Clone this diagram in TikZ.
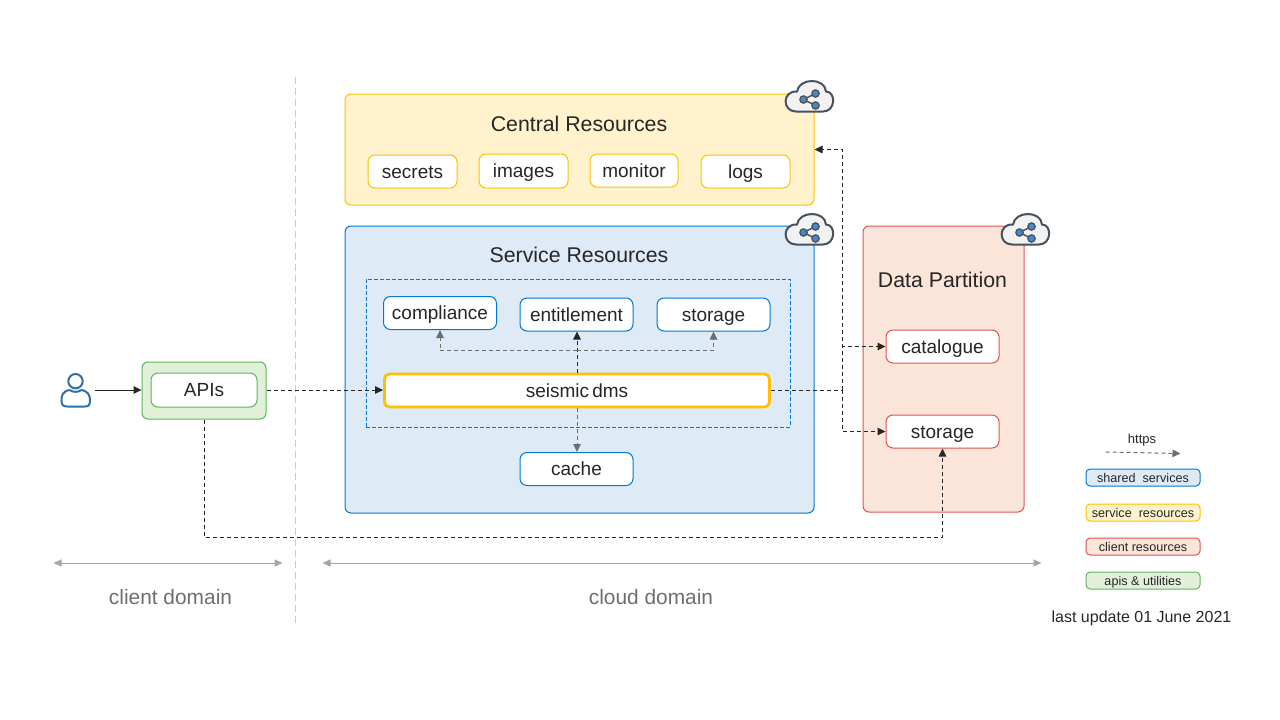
\documentclass[tikz,border=0pt]{standalone}
\usepackage{fontspec}
\setmainfont{Liberation Sans}
\usetikzlibrary{calc,arrows.meta}
\definecolor{inkdark}{HTML}{262626}
\definecolor{inkgrey}{HTML}{6E6E6E}
\definecolor{yelfill}{HTML}{FFF2CC}
\definecolor{yelline}{HTML}{FFC000}
\definecolor{bluefill}{HTML}{DEEAF6}
\definecolor{blueline}{HTML}{0078D4}
\definecolor{redfill}{HTML}{FBE5D8}
\definecolor{redline}{HTML}{E05252}
\definecolor{grnfill}{HTML}{E2F0D9}
\definecolor{grnline}{HTML}{5CB85C}
\definecolor{cloudline}{HTML}{46525C}
\definecolor{clouddot}{HTML}{4A86C5}
\definecolor{userline}{HTML}{2F6FA8}
\tikzset{
  linktip/.style={-{Triangle[length=8pt,width=7.5pt]}},
  panel/.style={draw,rounded corners=6pt,line width=1pt,inner sep=0pt},
  svcbox/.style={panel,fill=white,rounded corners=7pt,text=inkdark,font=\fontsize{19}{21}\selectfont,text height=15pt,text depth=2pt},
  legbox/.style={panel,rounded corners=4pt,minimum width=114pt,minimum height=17pt,text=inkdark,font=\fontsize{12.6}{14}\selectfont,text height=11pt,text depth=2pt},
  paneltitle/.style={text=inkdark,font=\fontsize{21.3}{24}\selectfont,inner sep=0pt},
  domaintext/.style={text=inkgrey,font=\fontsize{20.9}{24}\selectfont,inner sep=0pt},
  spanline/.style={draw=black!35,line width=1pt,{Triangle[length=8pt,width=7pt]}-{Triangle[length=8pt,width=7pt]}},
  cloudicon/.pic={
    \draw[draw=cloudline,fill=black!5,line width=2pt] (-13,15) .. controls (-27,15) and (-27,-6) .. (-12,-5) .. controls (-10,-19) and (16,-19) .. (17,-5) .. controls (27,-5) and (27,15) .. (14,15) -- cycle;
    \draw[draw=cloudline,line width=1.5pt] (6.5,-3) -- (-5.5,3) -- (6.5,9);
    \foreach \p in {(6.5,-3),(-5.5,3),(6.5,9)}
      \draw[draw=cloudline,fill=clouddot,line width=1.2pt] \p circle (3.7);
  }
}
\def\drawlink{\draw[color=inkdark,line width=1pt,dash pattern=on 4pt off 3pt]}
\def\svcnode{\node[svcbox,draw=blueline,minimum width=113pt,minimum height=33pt]}
\begin{document}
\begin{tikzpicture}[x=1pt,y=-1pt]
\useasboundingbox (0.5,0.5) rectangle (1280.5,720.5);

% Domain split
\coordinate (split_top) at (295.5,77);
\coordinate (split_bottom) at (295.5,625);
\draw[draw=black!20,line width=1pt,dash pattern=on 7pt off 4pt] (split_top) to (split_bottom);

% Background panels
\node[panel,draw=yelline,fill=yelfill,minimum width=469pt,minimum height=111pt] (central) at (580,150) {};
\node[panel,draw=blueline,fill=bluefill,minimum width=469pt,minimum height=287pt] (service) at (580,370) {};
\node[panel,draw=redline,fill=redfill,minimum width=161pt,minimum height=286pt] (partition) at (944,369.5) {};
\node[panel,draw=grnline,fill=grnfill,minimum width=124pt,minimum height=57pt] (apis_back) at (204.5,391) {};
\node[panel,draw=blueline,rounded corners=0pt,dash pattern=on 4pt off 2pt,minimum width=424pt,minimum height=148pt] (core) at (578.5,353.5) {};

\node[paneltitle] (central_title) at (579.5,124.5) {Central Resources};
\node[paneltitle] (service_title) at (579.5,255.5) {Service Resources};
\node[paneltitle] (partition_title) at (943,280.5) {Data Partition};

% Central resources
\node[svcbox,draw=yelline,minimum width=89pt,minimum height=33pt] (secrets) at (413,172) {secrets};
\node[svcbox,draw=yelline,minimum width=89pt,minimum height=34pt] (images) at (524,171.5) {images};
\node[svcbox,draw=yelline,minimum width=88pt,minimum height=33pt] (monitor) at (634.5,171) {monitor};
\node[svcbox,draw=yelline,minimum width=89pt,minimum height=33pt] (logs) at (746,172) {logs};

% Service resources
\svcnode (compliance) at (440.5,313.5) {compliance};
\svcnode (entitlement) at (577,315) {entitlement};
\svcnode (svc_storage) at (714,315) {storage};
\svcnode (cache) at (577,469.5) {cache};
\node[svcbox,draw=yelline,line width=2.8pt,rounded corners=5pt,minimum width=385pt,minimum height=33pt] (dms) at (577.5,391) {seismic\hspace{-2pt} dms};

% Data partition
\node[svcbox,draw=redline,minimum width=113pt,minimum height=33pt] (catalogue) at (943,347) {catalogue};
\node[svcbox,draw=redline,minimum width=113pt,minimum height=33pt] (data_storage) at (943,432) {storage};

% Client side
\node[svcbox,draw=grnline,minimum width=106pt,minimum height=34pt] (apis) at (204.5,390.5) {APIs};
\coordinate (user) at (95,390.5);
\draw[draw=userline,line width=2pt] (76,381.7) circle (7.2);
\draw[draw=userline,line width=2pt] (70,390.5) .. controls (63,392) and (62,396) .. (62,401) .. controls (62,406) and (64,407) .. (68,407) -- (85,407) .. controls (89,407) and (90.5,406) .. (90.5,401) .. controls (90.5,396) and (89,392) .. (82,390.5) .. controls (78,393) and (74,393) .. (70,390.5);
\draw[linktip,color=inkdark,line width=1pt] (user) to (apis_back.west |- user);

% Cloud badges
\pic at (809.5,97) {cloudicon};
\pic at (809.5,230) {cloudicon};
\pic at (1025.5,230) {cloudicon};

% Links out of the dms
\coordinate (fork) at ($ (dms.north) + (0,-22) $);
\coordinate (bus) at (842.5,390.5);
\coordinate (api_drop) at (204,537.5);
\drawlink[linktip] (apis_back.east |- bus) to (dms.west |- bus);
\drawlink[linktip] (dms.north) to (entitlement.south -| dms.north);
\drawlink[linktip,color=inkgrey] (fork) -| (compliance.south);
\drawlink[linktip,color=inkgrey] (fork) -| (svc_storage.south);
\drawlink[linktip,color=inkgrey] (dms.south) to (cache.north -| dms.south);
\drawlink (dms.east |- bus) to (bus);
\drawlink[linktip] (bus) |- (central.east);
\drawlink[linktip] (bus) |- (catalogue.west);
\drawlink[linktip] (bus) |- (data_storage.west);
\drawlink[linktip] (apis_back.south) |- (api_drop -| data_storage.south) to (data_storage.south);

% Domain spans
\coordinate (client_l) at (54,563.5);
\coordinate (client_r) at (283,563.5);
\coordinate (cloud_l) at (323,563.5);
\coordinate (cloud_r) at (1042,563.5);
\draw[spanline] (client_l) to (client_r);
\draw[spanline] (cloud_l) to (cloud_r);
\node[domaintext] (client_label) at (171,597.5) {client domain};
\node[domaintext] (cloud_label) at (651.5,597.5) {cloud domain};

% Legend
\coordinate (https_l) at (1106,452.5);
\coordinate (https_r) at (1181,454);
\node[text=inkdark,font=\fontsize{13}{15}\selectfont,inner sep=0pt] (https_label) at (1142.5,440.5) {https};
\drawlink[linktip,color=inkgrey] (https_l) to (https_r);
\node[legbox,draw=blueline,fill=bluefill] (leg_shared) at (1143.5,478) {shared\ \ services};
\node[legbox,draw=yelline,fill=yelfill] (leg_service) at (1143.5,513) {service\ \ resources};
\node[legbox,draw=redline,fill=redfill] (leg_client) at (1143.5,547) {client resources};
\node[legbox,draw=grnline,fill=grnfill] (leg_apis) at (1143.5,581) {apis \& utilities};
\node[text=inkdark,font=\fontsize{16}{18}\selectfont,inner sep=0pt] (updated) at (1142,619) {last update 01 June 2021};
\end{tikzpicture}
\end{document}
